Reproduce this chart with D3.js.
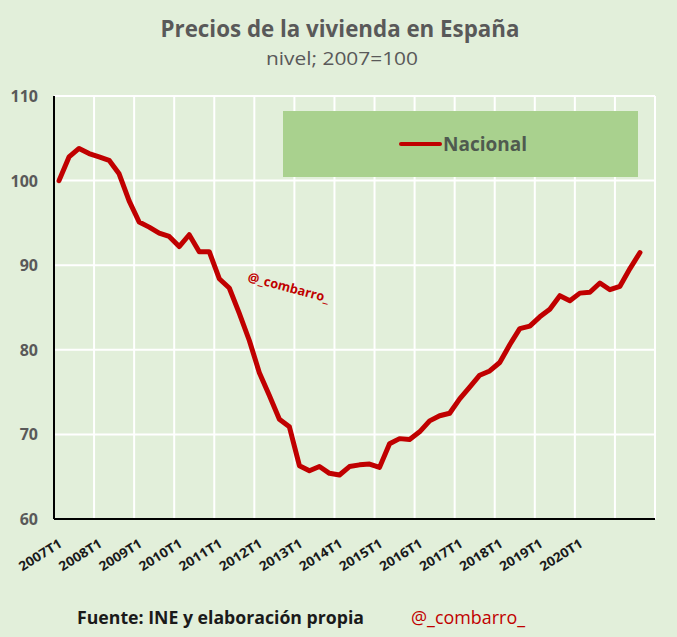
<!DOCTYPE html>
<html>
<head>
<meta charset="utf-8">
<script src="https://cdn.jsdelivr.net/npm/d3@7"></script>
<style>
  html, body { margin: 0; padding: 0; background: #e2efda; }
  text { font-family: "Open Sans", "Liberation Sans", sans-serif; }
</style>
</head>
<body>
<div id="chart-container"></div>
<script>
// Chart size
const svgWidth = 677;
const svgHeight = 637;

// Data: house price index, 2007=100, quarterly
const years = [2007, 2008, 2009, 2010, 2011, 2012, 2013, 2014, 2015, 2016, 2017, 2018, 2019, 2020, 2021];
const quarters = ['T1', 'T2', 'T3', 'T4'];
const tickLabels = ['2007T1', '2008T1', '2009T1', '2010T1', '2011T1', '2012T1', '2013T1',
  '2014T1', '2015T1', '2016T1', '2017T1', '2018T1', '2019T1', '2020T1'];
const nacional = [
  100.0, 102.8, 103.8, 103.2,
  102.8, 102.4, 100.8, 97.6,
  95.1, 94.5, 93.8, 93.4,
  92.2, 93.6, 91.6, 91.6,
  88.4, 87.3, 84.3, 81.1,
  77.3, 74.6, 71.8, 70.9,
  66.3, 65.7, 66.2, 65.4,
  65.2, 66.2, 66.4, 66.5,
  66.1, 68.9, 69.5, 69.4,
  70.3, 71.6, 72.2, 72.5,
  74.2, 75.6, 77.0, 77.5,
  78.5, 80.6, 82.5, 82.8,
  83.9, 84.8, 86.4, 85.8,
  86.7, 86.8, 87.9, 87.1,
  87.5, 89.6, 91.5
];
const yTicks = [60, 70, 80, 90, 100, 110];

// Category list (all quarters on the axis)
const categories = [];
years.forEach(y => quarters.forEach(q => categories.push(y + q)));

const margin = { left: 54, right: 22, top: 96, bottom: 118 };

const svg = d3.select('#chart-container')
  .append('svg')
  .attr('width', svgWidth)
  .attr('height', svgHeight);

svg.append('rect')
  .attr('width', svgWidth)
  .attr('height', svgHeight)
  .attr('fill', '#e2efda');

const xScale = d3.scaleBand()
  .domain(categories)
  .range([margin.left, svgWidth - margin.right]);
const yScale = d3.scaleLinear()
  .domain([60, 110])
  .range([svgHeight - margin.bottom, margin.top]);

// Horizontal gridlines
svg.append('g')
  .selectAll('line')
  .data(yTicks)
  .enter()
  .append('line')
  .attr('x1', margin.left)
  .attr('x2', svgWidth - margin.right)
  .attr('y1', d => yScale(d))
  .attr('y2', d => yScale(d))
  .attr('stroke', '#ffffff')
  .attr('stroke-width', 2);

// Vertical gridlines at the start of every year (plus the right edge)
const vLines = years.map(y => xScale(y + 'T1')).concat([xScale.range()[1]]);
svg.append('g')
  .selectAll('line')
  .data(vLines)
  .enter()
  .append('line')
  .attr('x1', d => d)
  .attr('x2', d => d)
  .attr('y1', yScale(60))
  .attr('y2', yScale(110))
  .attr('stroke', '#ffffff')
  .attr('stroke-width', 2);

// Legend box
const legend = svg.append('g');
legend.append('rect')
  .attr('x', 283)
  .attr('y', 111)
  .attr('width', 355)
  .attr('height', 66)
  .attr('fill', '#a9d18e');
legend.append('line')
  .attr('x1', 401)
  .attr('x2', 440)
  .attr('y1', 144)
  .attr('y2', 144)
  .attr('stroke', '#c00000')
  .attr('stroke-width', 4)
  .attr('stroke-linecap', 'round');
legend.append('text')
  .attr('x', 443)
  .attr('y', 151)
  .attr('fill', '#4f5a4f')
  .style('font-size', '20px')
  .style('font-weight', 'bold')
  .attr('textLength', 84)
  .attr('lengthAdjust', 'spacingAndGlyphs')
  .text('Nacional');

// Y axis labels
svg.append('g')
  .selectAll('text')
  .data(yTicks)
  .enter()
  .append('text')
  .attr('x', 38)
  .attr('y', d => yScale(d) + 6)
  .attr('text-anchor', 'end')
  .attr('fill', '#595959')
  .style('font-size', '16px')
  .style('font-weight', 'bold')
  .text(d => d);

// X axis labels, rotated
svg.append('g')
  .selectAll('text')
  .data(tickLabels)
  .enter()
  .append('text')
  .attr('text-anchor', 'end')
  .attr('transform', d => 'translate(' + (xScale(d) + xScale.bandwidth() / 2 + 4) + ',' + 546 + ') rotate(-32)')
  .attr('fill', '#1a1a1a')
  .style('font-size', '13px')
  .style('font-weight', 'bold')
  .attr('textLength', 48)
  .attr('lengthAdjust', 'spacingAndGlyphs')
  .text(d => d);

// Axes lines
svg.append('line')
  .attr('x1', margin.left)
  .attr('x2', margin.left)
  .attr('y1', yScale(110))
  .attr('y2', yScale(60))
  .attr('stroke', '#000')
  .attr('stroke-width', 2);
svg.append('line')
  .attr('x1', margin.left)
  .attr('x2', svgWidth - margin.right)
  .attr('y1', yScale(60))
  .attr('y2', yScale(60))
  .attr('stroke', '#000')
  .attr('stroke-width', 2);

// The series line
const line = d3.line()
  .x((d, i) => xScale(categories[i]) + xScale.bandwidth() / 2)
  .y(d => yScale(d));

svg.append('path')
  .datum(nacional)
  .attr('d', line)
  .attr('fill', 'none')
  .attr('stroke', '#c00000')
  .attr('stroke-width', 5)
  .attr('stroke-linejoin', 'round')
  .attr('stroke-linecap', 'round');

// Watermark inside the plot
svg.append('text')
  .attr('transform', 'translate(247,281) rotate(15)')
  .attr('fill', '#c00000')
  .style('font-size', '13px')
  .style('font-weight', 'bold')
  .attr('textLength', 84)
  .attr('lengthAdjust', 'spacingAndGlyphs')
  .text('@_combarro_');

// Titles
svg.append('text')
  .attr('x', 340)
  .attr('y', 37)
  .attr('text-anchor', 'middle')
  .attr('fill', '#595959')
  .style('font-size', '23px')
  .style('font-weight', 'bold')
  .attr('textLength', 359)
  .attr('lengthAdjust', 'spacingAndGlyphs')
  .text('Precios de la vivienda en España');
svg.append('text')
  .attr('x', 342)
  .attr('y', 65)
  .attr('text-anchor', 'middle')
  .attr('fill', '#595959')
  .style('font-size', '19px')
  .attr('textLength', 152)
  .attr('lengthAdjust', 'spacingAndGlyphs')
  .text('nivel; 2007=100');

// Footer
svg.append('text')
  .attr('x', 77)
  .attr('y', 624)
  .attr('fill', '#1a1a1a')
  .style('font-size', '18px')
  .style('font-weight', 'bold')
  .attr('textLength', 287)
  .attr('lengthAdjust', 'spacingAndGlyphs')
  .text('Fuente: INE y elaboración propia');
svg.append('text')
  .attr('x', 411)
  .attr('y', 624)
  .attr('fill', '#c00000')
  .style('font-size', '18px')
  .attr('textLength', 114)
  .attr('lengthAdjust', 'spacingAndGlyphs')
  .text('@_combarro_');
</script>
</body>
</html>
